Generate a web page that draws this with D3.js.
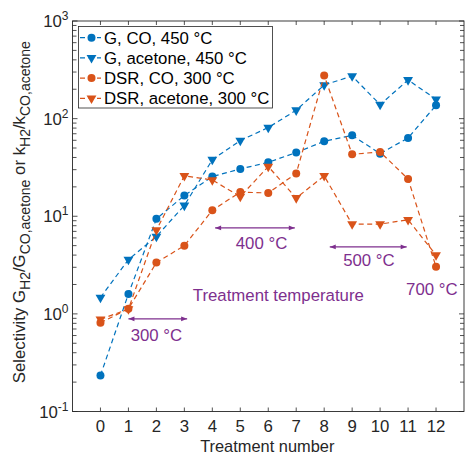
<!DOCTYPE html>
<html>
<head>
<meta charset="utf-8">
<script src="https://cdn.jsdelivr.net/npm/d3@7"></script>
<style>
  body { margin: 0; background: #fff; }
  svg { display: block; font-family: "Liberation Sans", Arial, sans-serif; }
</style>
</head>
<body>
<script>
// treatment numbers 0..12
const treatments = [0, 1, 2, 3, 4, 5, 6, 7, 8, 9, 10, 11, 12]
const gCO = [0.234, 1.6, 9.4, 16.3, 25.5, 30.5, 35.7, 44.9, 58.6, 67.5, 43.8, 63.4, 137]
const gAcetone = [1.47, 3.6, 6.2, 12.9, 38, 59.6, 81, 122, 221, 273, 139, 249, 158]
const dsrCO = [0.81, 1.13, 3.35, 5.0, 11.5, 17.7, 17.3, 27.4, 276, 43.1, 45.6, 24.1, 3.03]
const dsrAcetone = [0.88, 1.12, 7.2, 26, 23.5, 15.9, 32.3, 15.4, 25.9, 8.3, 8.3, 9.2, 4.0]
const seriesNames = ['G, CO, 450 °C', 'G, acetone, 450 °C', 'DSR, CO, 300 °C', 'DSR, acetone, 300 °C']
const yTickExps = [-1, 0, 1, 2, 3]
// temperature annotations: [x0, x1, arrow y value, label, label x]
const tempRanges = [
  [1, 3.1, 0.89, '300 °C', 2.0],
  [4.1, 6.95, 7.6, '400 °C', 5.76],
  [8.2, 10.95, 4.85, '500 °C', 9.6],
]

const W = 465, H = 454
const m = { left: 72.5, top: 21, right: 1, bottom: 42.5 }
const blue = '#0072BD', orange = '#D95319', purple = '#7E2F8E', axc = '#262626'
const fs = 16.8

const series = [
  { name: seriesNames[0], vals: gCO, color: blue, marker: 'circle' },
  { name: seriesNames[1], vals: gAcetone, color: blue, marker: 'tri' },
  { name: seriesNames[2], vals: dsrCO, color: orange, marker: 'circle' },
  { name: seriesNames[3], vals: dsrAcetone, color: orange, marker: 'tri' },
]

const svg = d3.select('body').append('svg').attr('width', W).attr('height', H)
const x = d3.scaleLinear().domain([-1, 13]).range([m.left, W - m.right])
const y = d3.scaleLog().domain([0.1, 1000]).range([H - m.bottom, m.top])
const x0 = x.range()[0], x1 = x.range()[1], y0 = y.range()[0], y1 = y.range()[1]

// ticks
const tl = 4
const tg = svg.append('g').attr('stroke', axc).attr('stroke-width', 0.8)
treatments.forEach(t => {
  tg.append('line').attr('x1', x(t)).attr('x2', x(t)).attr('y1', y0).attr('y2', y0 - tl)
  tg.append('line').attr('x1', x(t)).attr('x2', x(t)).attr('y1', y1).attr('y2', y1 + tl)
})
yTickExps.forEach(e => {
  for (let k = 1; k <= 9; k++) {
    const v = k * Math.pow(10, e)
    if (v > 1000) continue
    const len = k === 1 ? tl + 1 : tl
    tg.append('line').attr('x1', x0).attr('x2', x0 + len).attr('y1', y(v)).attr('y2', y(v))
    tg.append('line').attr('x1', x1).attr('x2', x1 - len).attr('y1', y(v)).attr('y2', y(v))
  }
})

// x tick labels
svg.append('g').selectAll('text').data(treatments).join('text')
  .attr('x', d => x(d)).attr('y', y0 + 20.5)
  .attr('text-anchor', 'middle').attr('font-size', fs).attr('fill', axc)
  .text(d => d)

// y tick labels 10^e
const yl = svg.append('g').attr('fill', axc)
yTickExps.forEach(e => {
  const t = yl.append('text').attr('x', x0 - 4).attr('y', y(Math.pow(10, e)) + 6)
    .attr('text-anchor', 'end').attr('font-size', fs)
  t.append('tspan').text('10')
  t.append('tspan').attr('dy', -7).attr('font-size', 12).text(e)
})

// axis labels
svg.append('text').attr('x', (x0 + x1) / 2 - 1).attr('y', H - 2.5)
  .attr('text-anchor', 'middle').attr('font-size', 16.4).attr('fill', axc)
  .text('Treatment number')

const ylab = svg.append('text')
  .attr('transform', `translate(25,${(y0 + y1) / 2 - 4}) rotate(-90)`)
  .attr('text-anchor', 'middle').attr('font-size', fs).attr('fill', axc)
const parts = [['Selectivity G', 0], ['H2', 1], ['/G', 0], ['CO,acetone', 1], [' or k', 0], ['H2', 1], ['/k', 0], ['CO,acetone', 1]]
let prevSub = 0
parts.forEach(([s, sub]) => {
  const dy = (sub - prevSub) * 5
  ylab.append('tspan').attr('dy', dy).attr('font-size', sub ? 14 : fs).text(s)
  prevSub = sub
})

// data lines and markers
const line = d3.line().x((d, i) => x(treatments[i])).y(d => y(d))
const tri = d3.symbol().type(d3.symbolTriangle).size(42)
series.forEach(s => {
  svg.append('path').datum(s.vals).attr('d', line)
    .attr('fill', 'none').attr('stroke', s.color).attr('stroke-width', 1.2)
    .attr('stroke-dasharray', '5,3.5')
  const g = svg.append('g').attr('fill', s.color)
  if (s.marker === 'circle') {
    g.selectAll('circle').data(s.vals).join('circle')
      .attr('cx', (d, i) => x(treatments[i])).attr('cy', d => y(d)).attr('r', 4)
  } else {
    g.selectAll('path').data(s.vals).join('path')
      .attr('d', tri).attr('transform', (d, i) => `translate(${x(treatments[i])},${y(d)}) rotate(180)`)
  }
})

// temperature annotations
const ann = svg.append('g').attr('fill', purple)
svg.append('defs').html(`<marker id="ah" viewBox="0 0 10 10" refX="10" refY="5" markerWidth="7" markerHeight="5" orient="auto-start-reverse"><path d="M0,1 L10,5 L0,9 z" fill="${purple}"/></marker>`)
const labelDy = [21.7, 21.6, 18.7]
tempRanges.forEach(([a, b, v, label, lx], i) => {
  svg.append('line').attr('x1', x(a)).attr('x2', x(b)).attr('y1', y(v)).attr('y2', y(v))
    .attr('stroke', purple).attr('stroke-width', 1.2)
    .attr('marker-start', 'url(#ah)').attr('marker-end', 'url(#ah)')
  ann.append('text').attr('x', x(lx)).attr('y', y(v) + labelDy[i])
    .attr('text-anchor', 'middle').attr('font-size', fs).text(label)
})
ann.append('text').attr('x', x(11.85)).attr('y', y(1.56)).attr('text-anchor', 'middle')
  .attr('font-size', fs).text('700 °C')
ann.append('text').attr('x', x(6.36)).attr('y', y(1.37)).attr('text-anchor', 'middle')
  .attr('font-size', fs).text('Treatment temperature')

// legend
const lg = svg.append('g')
lg.append('rect').attr('x', 78.5).attr('y', 26.5).attr('width', 194).attr('height', 81.5)
  .attr('fill', '#fff').attr('stroke', axc).attr('stroke-width', 0.8)
series.forEach((s, i) => {
  const ly = 37.7 + i * 20.2
  lg.append('line').attr('x1', 80).attr('x2', 101).attr('y1', ly).attr('y2', ly)
    .attr('stroke', s.color).attr('stroke-width', 1.2).attr('stroke-dasharray', '5,3.5')
  if (s.marker === 'circle') lg.append('circle').attr('cx', 91.5).attr('cy', ly).attr('r', 4).attr('fill', s.color)
  else lg.append('path').attr('d', tri).attr('transform', `translate(91.5,${ly}) rotate(180)`).attr('fill', s.color)
  lg.append('text').attr('x', 104).attr('y', ly + 6).attr('font-size', fs).attr('fill', '#000').text(s.name)
})

// axes box
svg.append('rect').attr('x', x0).attr('y', y1).attr('width', x1 - x0).attr('height', y0 - y1)
  .attr('fill', 'none').attr('stroke', axc).attr('stroke-width', 0.9)
</script>
</body>
</html>
